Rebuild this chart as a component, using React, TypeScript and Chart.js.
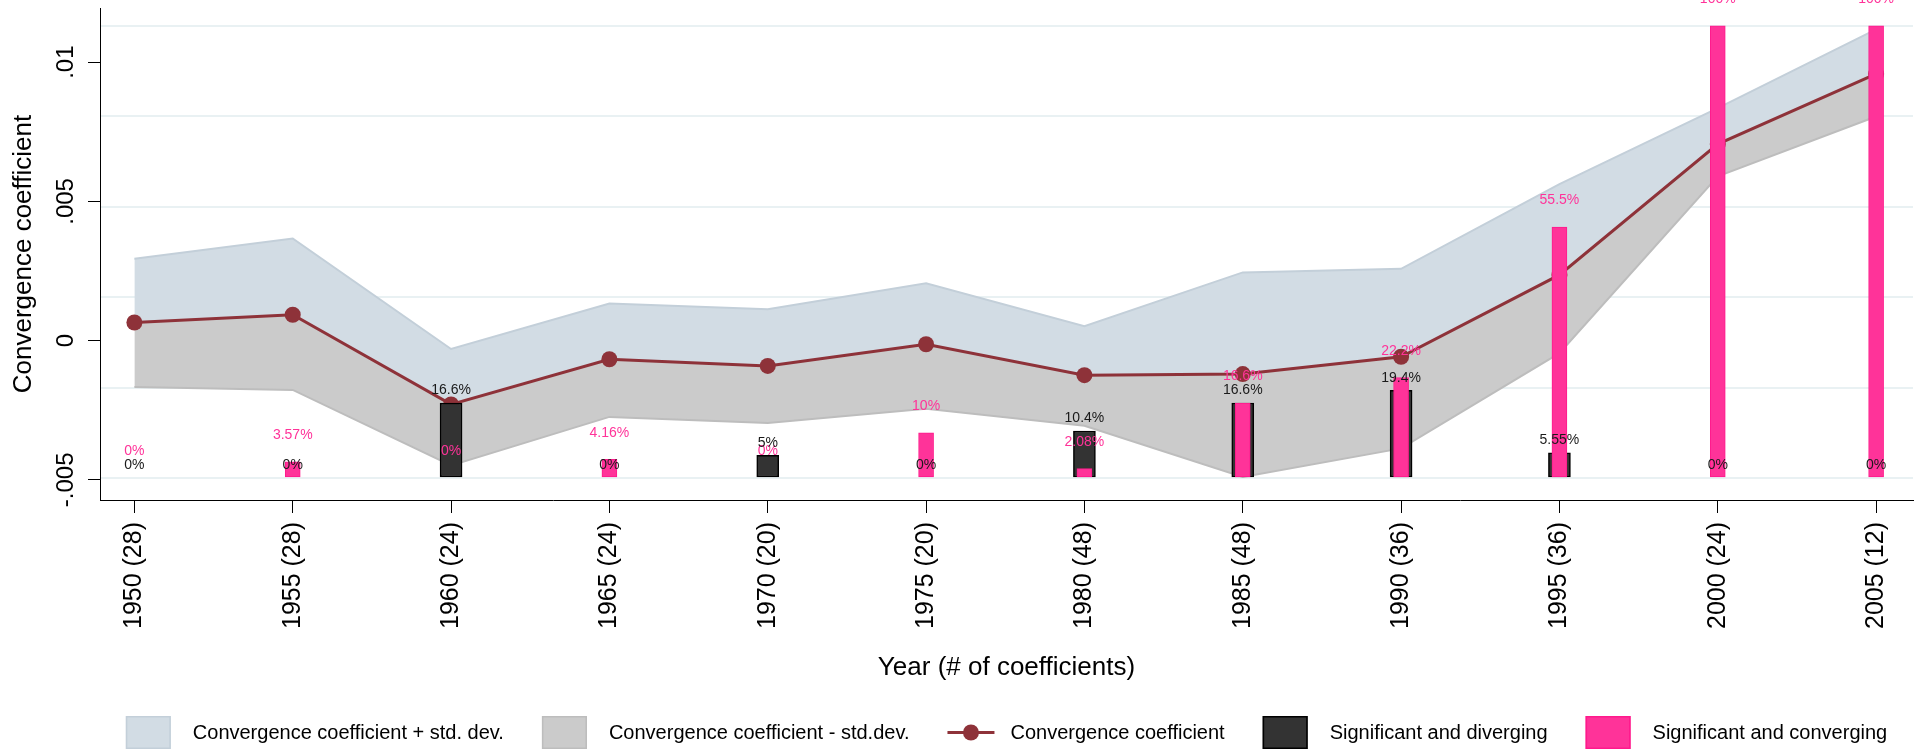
import React, { useEffect, useRef } from 'react';
import { Chart, registerables } from 'chart.js';

Chart.register(...registerables);

// ---------------- data ----------------
const years = [1950, 1955, 1960, 1965, 1970, 1975, 1980, 1985, 1990, 1995, 2000, 2005];
const coefCounts = [28, 28, 24, 24, 20, 20, 48, 48, 36, 36, 24, 12];
const coefficient = [0.00065, 0.00093, -0.00229, -0.00067, -0.00091, -0.00013, -0.00124, -0.0012, -0.00058, 0.00236, 0.00706, 0.00958];
const upperBand = [0.00294, 0.00367, -0.0003, 0.00133, 0.00113, 0.00206, 0.00052, 0.00245, 0.00258, 0.00562, 0.00835, 0.01118];
const lowerBand = [-0.00167, -0.00177, -0.00448, -0.00274, -0.00296, -0.00245, -0.00306, -0.0049, -0.00387, -0.00045, 0.0059, 0.00805];
const divergingPct = [0, 0, 16.6, 0, 5, 0, 10.4, 16.6, 19.4, 5.55, 0, 0];
const convergingPct = [0, 3.57, 0, 4.16, 0, 10, 2.08, 16.6, 22.2, 55.5, 100, 100];
const yTickValues = [-0.005, 0, 0.005, 0.01];
const yTickLabels = ['-.005', '0', '.005', '.01'];
const gridValues = [0, 20, 40, 60, 80, 100];
const legendLabels = [
  'Convergence coefficient + std. dev.',
  'Convergence coefficient - std.dev.',
  'Convergence coefficient',
  'Significant and diverging',
  'Significant and converging',
];
const yTitle = 'Convergence coefficient';
const xTitle = 'Year (# of coefficients)';

// ---------------- styles ----------------
const FONT = "'Liberation Sans', Arial, sans-serif";
const BLUE_FILL = '#d2dce4';
const BLUE_EDGE = '#c3cfd9';
const GREY_FILL = '#cbcbcb';
const GREY_EDGE = '#bdbdbd';
const LINE_COLOR = '#8e3239';
const DARK_BAR = '#333333';
const PINK_BAR = '#ff3399';
const PINK_EDGE = '#ff1a8c';
const GRID_COLOR = '#e9f1f3';

const legendStyles = [
  { kind: 'box', fill: BLUE_FILL, stroke: BLUE_EDGE },
  { kind: 'box', fill: GREY_FILL, stroke: GREY_EDGE },
  { kind: 'line', fill: LINE_COLOR, stroke: LINE_COLOR },
  { kind: 'box', fill: DARK_BAR, stroke: '#000000' },
  { kind: 'box', fill: PINK_BAR, stroke: PINK_EDGE },
];

const overlayPlugin = {
  id: 'overlay',
  afterDatasetsDraw(chart: any) {
    const ctx = chart.ctx;
    const xs = chart.scales.x;
    const ys = chart.scales.y;
    const y2 = chart.scales.y2;
    ctx.save();
    ctx.font = `14px ${FONT}`;
    ctx.textAlign = 'center';
    ctx.textBaseline = 'middle';
    years.forEach((yr, i) => {
      const px = xs.getPixelForValue(yr);
      ctx.fillStyle = PINK_BAR;
      ctx.fillText(`${convergingPct[i]}%`, px, y2.getPixelForValue(convergingPct[i]) - 26.5);
      ctx.fillStyle = '#1a1a1a';
      ctx.fillText(`${divergingPct[i]}%`, px, y2.getPixelForValue(divergingPct[i]) - 12.5);
    });
    // rotated y tick labels
    ctx.font = `24px ${FONT}`;
    ctx.fillStyle = '#000';
    yTickValues.forEach((v, i) => {
      const py = ys.getPixelForValue(v);
      ctx.save();
      ctx.translate(chart.chartArea.left - 27, py);
      ctx.rotate(-Math.PI / 2);
      ctx.textAlign = 'center';
      ctx.textBaseline = 'alphabetic';
      ctx.fillText(yTickLabels[i], 0, 0);
      ctx.restore();
    });
    ctx.restore();
  },
  afterDraw(chart: any) {
    const ctx = chart.ctx;
    const area = chart.chartArea;
    ctx.save();
    ctx.font = `20px ${FONT}`;
    const boxW = 45;
    const lineW = 47;
    const widths = legendLabels.map((t, i) => {
      const sym = legendStyles[i].kind === 'line' ? lineW + 16 : boxW + 22;
      return sym + ctx.measureText(t).width;
    });
    const gap = 38;
    const total = widths.reduce((a, b) => a + b, 0) + gap * (widths.length - 1);
    let x = (area.left + area.right) / 2 - total / 2;
    const top = 716;
    const h = 33;
    const cy = top + h / 2;
    legendLabels.forEach((t, i) => {
      const st = legendStyles[i];
      let tx;
      if (st.kind === 'box') {
        ctx.fillStyle = st.fill;
        ctx.fillRect(x, top, boxW, h);
        ctx.strokeStyle = st.stroke;
        ctx.lineWidth = 1.5;
        ctx.strokeRect(x + 0.75, top + 0.75, boxW - 1.5, h - 1.5);
        tx = x + boxW + 22;
      } else {
        ctx.strokeStyle = st.stroke;
        ctx.lineWidth = 3;
        ctx.beginPath();
        ctx.moveTo(x, cy);
        ctx.lineTo(x + lineW, cy);
        ctx.stroke();
        ctx.fillStyle = st.fill;
        ctx.beginPath();
        ctx.arc(x + lineW / 2, cy, 8, 0, Math.PI * 2);
        ctx.fill();
        tx = x + lineW + 16;
      }
      ctx.fillStyle = '#000';
      ctx.textAlign = 'left';
      ctx.textBaseline = 'middle';
      ctx.fillText(t, tx, cy + 1);
      x += widths[i] + gap;
    });
    ctx.restore();
  },
};

export default function App() {
  const ref = useRef<HTMLCanvasElement | null>(null);
  useEffect(() => {
    if (!ref.current) return;
    const pts = (arr: number[]) => years.map((yr, i) => ({ x: yr, y: arr[i] }));
    const chart = new Chart(ref.current, {
      type: 'line',
      data: {
        datasets: [
          {
            type: 'line',
            label: legendLabels[2],
            data: pts(coefficient),
            borderColor: LINE_COLOR,
            backgroundColor: LINE_COLOR,
            borderWidth: 3,
            pointRadius: 8,
            pointBorderWidth: 0,
            pointBackgroundColor: LINE_COLOR,
            fill: false,
            tension: 0,
            yAxisID: 'y',
            order: 4,
          },
          {
            type: 'line',
            label: legendLabels[0],
            data: pts(upperBand),
            borderColor: BLUE_EDGE,
            backgroundColor: BLUE_FILL,
            borderWidth: 2,
            pointRadius: 0,
            fill: 0,
            tension: 0,
            yAxisID: 'y',
            order: 6,
          },
          {
            type: 'line',
            label: legendLabels[1],
            data: pts(lowerBand),
            borderColor: GREY_EDGE,
            backgroundColor: GREY_FILL,
            borderWidth: 2,
            pointRadius: 0,
            fill: 0,
            tension: 0,
            yAxisID: 'y',
            order: 5,
          },
          {
            type: 'bar',
            label: legendLabels[3],
            data: pts(divergingPct),
            backgroundColor: DARK_BAR,
            borderColor: '#000000',
            borderWidth: 1.5,
            borderSkipped: false,
            barThickness: 22,
            grouped: false,
            yAxisID: 'y2',
            order: 2,
          } as any,
          {
            type: 'bar',
            label: legendLabels[4],
            data: pts(convergingPct),
            backgroundColor: PINK_BAR,
            borderColor: PINK_EDGE,
            borderWidth: 1,
            borderSkipped: false,
            barThickness: 15,
            grouped: false,
            yAxisID: 'y2',
            order: 1,
          } as any,
        ],
      },
      options: {
        animation: false,
        responsive: false,
        devicePixelRatio: 1,
        events: [],
        layout: { padding: { top: 7, right: 2, bottom: 50, left: 0 } },
        plugins: {
          legend: { display: false },
          tooltip: { enabled: false },
        },
        scales: {
          x: {
            type: 'linear',
            position: 'bottom',
            min: 1948.914,
            max: 2006.165,
            offset: false,
            afterBuildTicks: (axis: any) => {
              axis.ticks = years.map((v) => ({ value: v }));
            },
            afterFit: (axis: any) => {
              axis.height = 200;
            },
            ticks: {
              autoSkip: false,
              minRotation: 90,
              maxRotation: 90,
              padding: 9,
              color: '#000',
              font: { size: 25, family: FONT },
              callback: (v: any) => {
                const i = years.indexOf(Number(v));
                return i >= 0 ? `${years[i]} (${coefCounts[i]})` : '';
              },
            },
            grid: {
              offset: false,
              drawOnChartArea: false,
              drawTicks: true,
              tickLength: 13,
              tickColor: '#000',
              tickWidth: 1,
            },
            border: { display: true, color: '#000', width: 1 },
            title: {
              display: true,
              text: xTitle,
              color: '#000',
              font: { size: 26, family: FONT },
              padding: { top: 0, bottom: 17 },
            },
          },
          y: {
            type: 'linear',
            position: 'left',
            min: -0.005724,
            max: 0.011946,
            afterBuildTicks: (axis: any) => {
              axis.ticks = yTickValues.map((v) => ({ value: v }));
            },
            afterFit: (axis: any) => {
              axis.width = 100;
            },
            ticks: { display: false },
            grid: {
              offset: false,
              drawOnChartArea: false,
              drawTicks: true,
              tickLength: 12,
              tickColor: '#000',
              tickWidth: 1,
            },
            border: { display: true, color: '#000', width: 1 },
            title: {
              display: true,
              text: yTitle,
              color: '#000',
              font: { size: 26, family: FONT },
              padding: { top: 8, bottom: 0 },
            },
          },
          y2: {
            type: 'linear',
            position: 'right',
            min: -4.857,
            max: 103.97,
            afterBuildTicks: (axis: any) => {
              axis.ticks = gridValues.map((v) => ({ value: v }));
            },
            afterFit: (axis: any) => {
              axis.width = 0;
            },
            ticks: { display: false },
            grid: {
              offset: false,
              drawOnChartArea: true,
              drawTicks: false,
              color: GRID_COLOR,
              lineWidth: 2,
            },
            border: { display: false },
          },
        },
      },
      plugins: [overlayPlugin],
    } as any);
    return () => chart.destroy();
  }, []);
  return (
    <div style={{ position: 'fixed', left: 0, top: 0, width: 1921, height: 750, background: '#fff' }}>
      <canvas ref={ref} width={1921} height={750} style={{ width: 1921, height: 750, display: 'block' }} />
    </div>
  );
}
